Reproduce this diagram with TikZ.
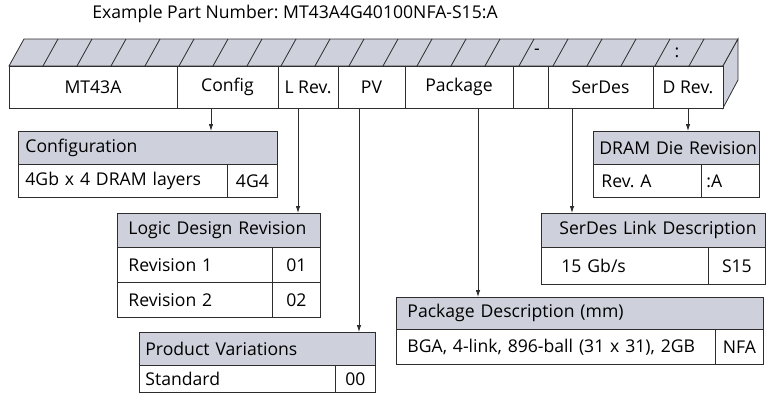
\documentclass[tikz,border=0pt]{standalone}
\usepackage{fontspec}
\setmainfont{Open Sans}
\usetikzlibrary{arrows.meta}
\definecolor{hdrgray}{RGB}{206,209,219}
\definecolor{linegray}{RGB}{45,45,45}
\tikzset{cell/.style={draw=linegray, fill=white, minimum height=42, inner sep=0pt, line width=.8pt}}
\tikzset{hdr/.style={draw=linegray, fill=hdrgray, anchor=north west, inner ysep=0pt, line width=.8pt, align=left}}
\tikzset{row/.style={draw=linegray, fill=white, anchor=north west, inner ysep=0pt, line width=.8pt}}
\tikzset{arr/.style={draw=linegray, line width=.8pt, -{Latex[length=7pt,width=4.5pt]}}}
\frenchspacing

\begin{document}
\begin{tikzpicture}[x=1pt,y=-1pt,font=\fontsize{17.6}{20}\selectfont]
  \useasboundingbox (0,0) rectangle (770,402);
  \node (title) at (295,14) {Example Part Number: MT43A4G40100NFA-S15:A};
  % top and side of the bar
  \filldraw[draw=linegray, fill=hdrgray, line width=.8pt]
    (9,66) -- (24,39) -- (738,39) -- (723,66) -- cycle;
  \filldraw[draw=linegray, fill=hdrgray, line width=.8pt]
    (723,66) -- (738,39) -- (738,80) -- (723,108) -- cycle;
  \foreach \i in {1,...,20} {
    \draw[linegray, line width=.8pt] (9+34*\i,66) -- (24+34*\i,39);
  }
  \node (dash) at (537,52) {-};
  \node (colon) at (677,53) {:};
  % front of the bar
  \foreach \x/\w/\lab/\name in {
    93/168/MT43A/mt,
    227.5/101/Config/cfg,
    308/60/L Rev./lrev,
    371.5/67/PV/pv,
    459/108/Package/pkg,
    530.5/35/{}/blank,
    600.5/105/SerDes/ser,
    688/70/D Rev./drev%
  } {
    \node[cell, minimum width=\w] (\name) at (\x,87) {\lab};
  }
  % headers of the tables
  \foreach \x/\y/\w/\h/\m/\name/\lab in {
    18/131/259/33/7/cfgT/Configuration,
    117/213/203/34/11/lrevT/Logic Design Revision,
    139/332/236/33/6/pvT/Product Variations,
    593/131/166/33/6/drevT/DRAM Die Revision,
    541/213/224/34/18/serT/SerDes Link Description,
    396/297/367/32/11/pkgT/Package Description (mm)%
  } {
    \pgfmathsetmacro\tw{\w-2*\m}
    \node[hdr, minimum width=\w, minimum height=\h, inner xsep=\m, text width=\tw pt] (\name) at (\x,\y) {\mbox{\lab}};
  }
  % rows of the tables
  \foreach \x/\y/\w/\h/\m/\al/\name/\lab in {
    18/164/209/33/7/left/cfgA/4Gb x 4 DRAM layers,
    227/164/50/33/0/center/cfgB/4G4,
    117/247/155/35/11/left/lrevA/Revision 1,
    272/247/48/35/0/center/lrevB/01,
    117/282/155/35/11/left/lrevC/Revision 2,
    272/282/48/35/0/center/lrevD/02,
    139/365/196/27/6/left/pvA/Standard,
    335/365/40/27/0/center/pvB/00,
    593/164/108/33/8/left/drevA/Rev. A,
    701/164/58/33/5/left/drevB/:A,
    541/247/167/37/20/left/serA/{15 Gb/s},
    708/247/57/37/0/center/serB/S15,
    396/329/319/35/11/left/pkgA/{BGA, 4-link, 896-ball (31 x 31), 2GB},
    715/329/48/35/0/center/pkgB/NFA%
  } {
    \pgfmathsetmacro\tw{\w-2*\m}
    \node[row, minimum width=\w, minimum height=\h, inner xsep=\m, text width=\tw pt, align=\al] (\name) at (\x,\y) {\mbox{\lab}};
  }
  % connectors
  \foreach \u/\s/\v in {
    cfg/-16.5/cfgT,
    lrev/-10/lrevT,
    pv/-12.5/pvT,
    pkg/19/pkgT,
    ser/-28.5/serT,
    drev/0/drevT%
  } {
    \draw[arr] ([xshift=\s]\u.south) -- ([xshift=\s]\u.south |- \v.north);
  }
\end{tikzpicture}
\end{document}
